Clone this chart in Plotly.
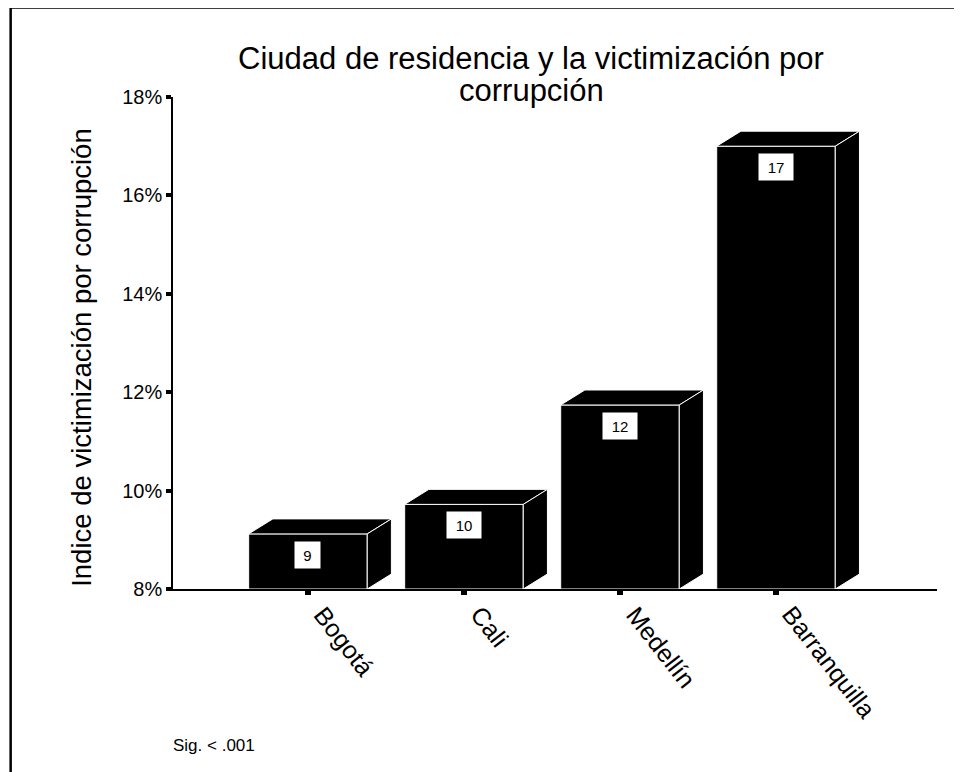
import plotly.graph_objects as go

# data
CITIES = ["Bogotá", "Cali", "Medellín", "Barranquilla"]
VICTIMIZATION = [9.12, 9.72, 11.74, 17.0]
Y_TICKS = [8, 10, 12, 14, 16, 18]

Y_MIN, Y_MAX = 8, 18
BAR_WIDTH = 0.76
DEPTH_X = 0.155   # 3d offset in category units
DEPTH_Y = 0.305   # 3d offset in percent units

FONT = "Liberation Sans, Arial, sans-serif"
BLACK = "#000000"
WHITE = "#FFFFFF"

xs = list(range(len(CITIES)))

fig = go.Figure()

# front faces
fig.add_trace(go.Bar(
    x=xs,
    y=[v - Y_MIN for v in VICTIMIZATION],
    base=Y_MIN,
    width=BAR_WIDTH,
    marker=dict(color=BLACK, line=dict(color=WHITE, width=1)),
    hoverinfo="skip",
    showlegend=False,
))

# top and side faces for the 3d look
for x, v in zip(xs, VICTIMIZATION):
    left = x - BAR_WIDTH / 2
    right = x + BAR_WIDTH / 2
    top_x = [left, right, right + DEPTH_X, left + DEPTH_X, left]
    top_y = [v, v, v + DEPTH_Y, v + DEPTH_Y, v]
    side_x = [right, right, right + DEPTH_X, right + DEPTH_X, right]
    side_y = [Y_MIN, v, v + DEPTH_Y, Y_MIN + DEPTH_Y, Y_MIN]
    for px_, py_ in [(top_x, top_y), (side_x, side_y)]:
        fig.add_trace(go.Scatter(
            x=px_, y=py_, mode="lines", fill="toself",
            fillcolor=BLACK, line=dict(color=WHITE, width=1),
            hoverinfo="skip", showlegend=False,
        ))

# value boxes
for x, v in zip(xs, VICTIMIZATION):
    label = str(round(v))
    fig.add_annotation(
        x=x, y=v, xref="x", yref="y",
        text=label, showarrow=False,
        xanchor="center", yanchor="top", yshift=-7,
        width=9 * len(label) + 8, height=18,
        bgcolor=WHITE, borderpad=4,
        font=dict(family=FONT, size=15, color=BLACK),
    )

# rotated category labels, box starting at each tick
for x, city in zip(xs, CITIES):
    fig.add_annotation(
        x=x, y=0, xref="x", yref="paper",
        text=city, showarrow=False, textangle=52,
        xanchor="left", yanchor="top", xshift=-2, yshift=-9,
        font=dict(family=FONT, size=25, color=BLACK),
    )

# second title line (tighter spacing than plotly's <br>)
fig.add_annotation(
    x=0.4686, y=1.0142, xref="paper", yref="paper",
    xanchor="center", yanchor="middle",
    text="corrupción", showarrow=False,
    font=dict(family=FONT, size=31, color=BLACK),
)

# y axis title
fig.add_annotation(
    x=-0.119, y=0.47, xref="paper", yref="paper",
    xanchor="center", yanchor="middle",
    text="Indice de victimización por corrupción",
    textangle=-90, showarrow=False,
    font=dict(family=FONT, size=27.5, color=BLACK),
)

# significance note
fig.add_annotation(
    x=-0.002, y=-0.318, xref="paper", yref="paper",
    xanchor="left", yanchor="middle",
    text="Sig. < .001", showarrow=False,
    font=dict(family=FONT, size=17, color=BLACK),
)

# outer frame (only left and top edges fall inside the picture)
fig.add_shape(
    type="rect", xref="paper", yref="paper",
    x0=-0.2125, y0=-0.6, x1=1.2, y1=1.182,
    line=dict(color=BLACK, width=2.5),
)

fig.update_layout(
    width=962,
    height=772,
    paper_bgcolor=WHITE,
    plot_bgcolor=WHITE,
    font=dict(family=FONT, color=BLACK),
    title=dict(
        text="Ciudad de residencia y la victimización por",
        x=523 / 962, xref="container", xanchor="center",
        y=1 - 50 / 772, yref="container", yanchor="middle",
        font=dict(family=FONT, size=31, color=BLACK),
    ),
    margin=dict(l=165, r=33, t=89, b=191),
    xaxis=dict(
        range=[-0.865, 4.032],
        tickvals=xs,
        showticklabels=False,
        ticks="outside", ticklen=4, tickwidth=6, tickcolor=BLACK,
        showline=True, linecolor=BLACK, linewidth=1.5,
        showgrid=False, zeroline=False,
    ),
    yaxis=dict(
        range=[Y_MIN, Y_MAX],
        tickvals=Y_TICKS,
        ticktext=[f"{t}%" for t in Y_TICKS],
        ticks="outside", ticklen=5, tickwidth=4, tickcolor=BLACK,
        showline=True, linecolor=BLACK, linewidth=1.5,
        showgrid=False, zeroline=False,
        tickfont=dict(family=FONT, size=20, color=BLACK),
    ),
)

fig.write_html("out.html")
